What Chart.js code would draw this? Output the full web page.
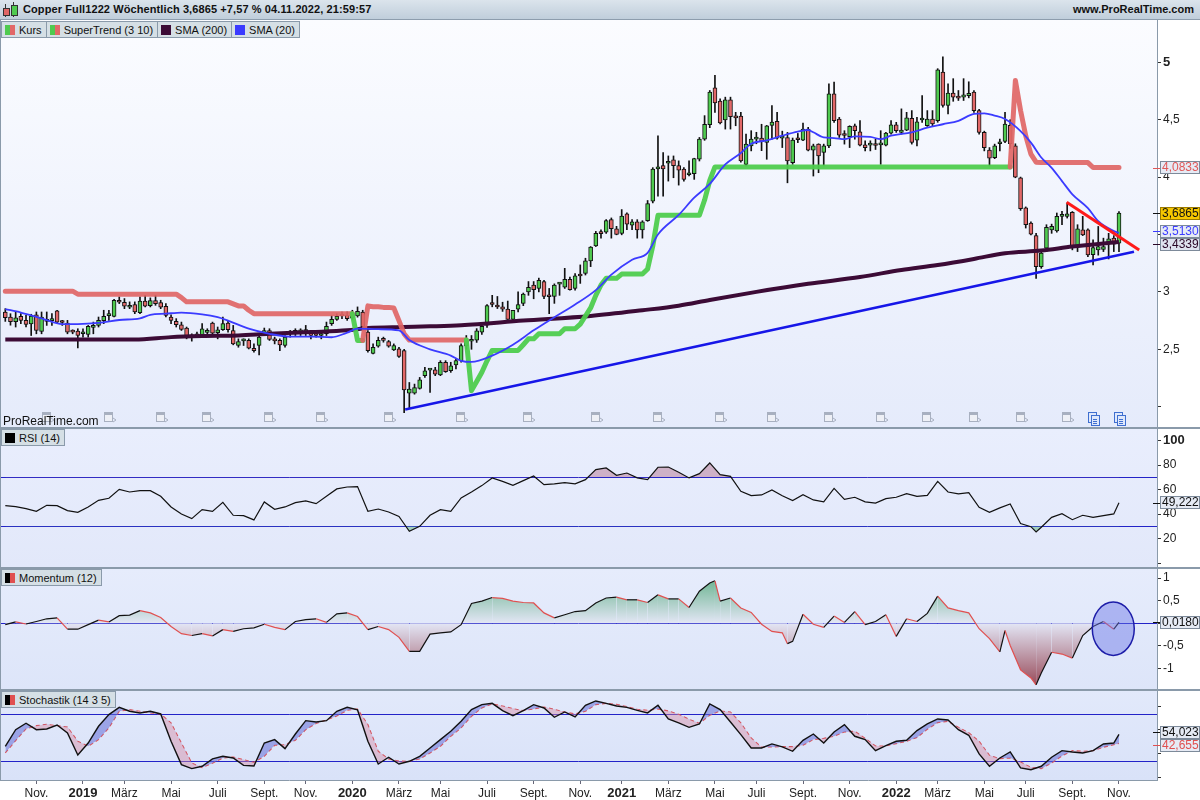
<!DOCTYPE html>
<html>
<head>
<meta charset="utf-8">
<title>Copper Full1222 Wöchentlich</title>
<script src="https://cdn.jsdelivr.net/npm/chart.js@4.4.1/dist/chart.umd.min.js"></script>
<style>
  body { margin: 0; background: #fff; }
  #page { position: relative; width: 1200px; height: 800px; overflow: hidden; font-family: "Liberation Sans", Arial, sans-serif; color: #111; background: #fff; }
  #page canvas { position: absolute; left: 0; }
  .hdr { position: absolute; left: 0; top: 0; width: 1200px; height: 20px; background: linear-gradient(#dbe4ec, #c0cedb); border-bottom: 1px solid #8d9dad; box-sizing: border-box; }
  .hdr .t { position: absolute; left: 23px; top: 3px; font-weight: bold; font-size: 11px; letter-spacing: 0.1px; }
  .hdr .w { position: absolute; right: 6px; top: 3px; font-weight: bold; font-size: 11px; }
  .tags { position: absolute; left: 1px; display: flex; z-index: 2; }
  .tag { height: 17px; line-height: 16px; font-size: 11px; background: #d5dfe5; border: 1px solid #8a9aaa; box-sizing: border-box; padding: 0 4px 0 3px; white-space: nowrap; margin-right: -1px; }
  .sw { display: inline-block; width: 10px; height: 10px; vertical-align: -1px; margin-right: 4px; }
  .sep { position: absolute; left: 0; width: 1200px; height: 2px; background: #8a9aaa; z-index: 2; }
  .prt { position: absolute; left: 3px; top: 414px; font-size: 12px; line-height: 14px; z-index: 2; }
</style>
</head>
<body>
<div id="page">
  <div class="hdr">
    <div style="position:absolute;left:5px;top:4px;width:1px;height:13px;background:#333"></div>
    <div style="position:absolute;left:3px;top:8px;width:5px;height:6px;background:#e06666;border:1px solid #333"></div>
    <div style="position:absolute;left:13px;top:2px;width:1px;height:15px;background:#333"></div>
    <div style="position:absolute;left:11px;top:5px;width:5px;height:9px;background:#4fca4f;border:1px solid #333"></div>
    <div class="t">Copper Full1222 Wöchentlich 3,6865 +7,57 % 04.11.2022, 21:59:57</div>
    <div class="w">www.ProRealTime.com</div>
  </div>

  <canvas id="cMain" width="1200" height="408" style="top:20px"></canvas>
  <canvas id="cRsi" width="1200" height="140" style="top:428px"></canvas>
  <canvas id="cMom" width="1200" height="122" style="top:568px"></canvas>
  <canvas id="cSto" width="1200" height="110" style="top:690px"></canvas>

  <div class="tags" style="top:21px">
    <div class="tag"><span class="sw" style="background:linear-gradient(90deg,#4fca4f 50%,#e26868 50%)"></span>Kurs</div>
    <div class="tag"><span class="sw" style="background:linear-gradient(90deg,#4fca4f 50%,#e26868 50%)"></span>SuperTrend (3 10)</div>
    <div class="tag"><span class="sw" style="background:#3c0b36"></span>SMA (200)</div>
    <div class="tag"><span class="sw" style="background:#3b3bff"></span>SMA (20)</div>
  </div>
  <div class="prt">ProRealTime.com</div>

  <div class="sep" style="top:427px"></div>
  <div class="tags" style="top:429px"><div class="tag"><span class="sw" style="background:#000"></span>RSI (14)</div></div>
  <div class="sep" style="top:567px"></div>
  <div class="tags" style="top:569px"><div class="tag"><span class="sw" style="background:linear-gradient(90deg,#000 50%,#e05050 50%)"></span>Momentum (12)</div></div>
  <div class="sep" style="top:689px"></div>
  <div class="tags" style="top:691px"><div class="tag"><span class="sw" style="background:linear-gradient(90deg,#000 50%,#e05050 50%)"></span>Stochastik (14 3 5)</div></div>
  <div style="position:absolute;left:0;top:20px;width:1px;height:760px;background:#8a9aaa;z-index:2"></div>
</div>

<script>
// weekly candles, first week ends 21.09.2018
const weekStart = Date.UTC(2018, 8, 21);
const monthNames = ["Jan", "Feb", "März", "Apr", "Mai", "Juni", "Juli", "Aug", "Sept.", "Okt.", "Nov.", "Dez."];

const openP = [
  2.825, 2.78, 2.74, 2.787, 2.752, 2.72, 2.80, 2.655, 2.76, 2.75,
  2.834, 2.735, 2.728, 2.652, 2.658, 2.635, 2.63, 2.69, 2.708, 2.75,
  2.793, 2.787, 2.927, 2.91, 2.866, 2.89, 2.82, 2.92, 2.88, 2.925,
  2.907, 2.875, 2.781, 2.743, 2.714, 2.685, 2.612, 2.615, 2.615, 2.647,
  2.728, 2.644, 2.67, 2.728, 2.664, 2.533, 2.574, 2.577, 2.509, 2.533,
  2.644, 2.664, 2.577, 2.577, 2.533, 2.641, 2.647, 2.652, 2.655, 2.65,
  2.623, 2.62, 2.635, 2.723, 2.761, 2.793, 2.796, 2.77, 2.79, 2.825,
  2.65, 2.465, 2.527, 2.58, 2.568, 2.495, 2.503, 2.489, 2.118, 2.118,
  2.159, 2.27, 2.319, 2.322, 2.276, 2.387, 2.313, 2.363, 2.401, 2.53,
  2.57, 2.58, 2.65, 2.71, 2.90, 2.872, 2.87, 2.85, 2.76, 2.85,
  2.90, 3.00, 3.06, 3.03, 3.09, 2.962, 2.96, 3.068, 3.04, 3.11,
  3.03, 3.142, 3.16, 3.27, 3.40, 3.512, 3.52, 3.63, 3.55, 3.51,
  3.68, 3.58, 3.61, 3.54, 3.62, 3.79, 4.07, 4.10, 4.12, 4.15,
  4.10, 4.07, 4.02, 4.03, 4.155, 4.33, 4.456, 4.778, 4.661, 4.497,
  4.672, 4.532, 4.532, 4.111, 4.272, 4.33, 4.339, 4.301, 4.45, 4.486,
  4.339, 4.345, 4.126, 4.33, 4.322, 4.418, 4.234, 4.287, 4.214, 4.272,
  4.725, 4.506, 4.365, 4.351, 4.447, 4.395, 4.28, 4.278, 4.28, 4.28,
  4.278, 4.383, 4.456, 4.389, 4.409, 4.512, 4.322, 4.497, 4.447, 4.506,
  4.491, 4.915, 4.623, 4.731, 4.69, 4.696, 4.71, 4.74, 4.579, 4.389,
  4.234, 4.17, 4.29, 4.31, 4.45, 4.272, 3.994, 3.731, 3.6, 3.49,
  3.22, 3.38, 3.54, 3.532, 3.658, 3.658, 3.693, 3.395, 3.541, 3.541,
  3.325, 3.366, 3.37, 3.42, 3.468, 3.424
];
const highP = [
  2.854, 2.81, 2.825, 2.81, 2.796, 2.805, 2.825, 2.825, 2.825, 2.81,
  2.84, 2.752, 2.752, 2.67, 2.679, 2.679, 2.708, 2.737, 2.781, 2.84,
  2.84, 2.936, 2.957, 2.942, 2.913, 2.913, 2.957, 2.971, 2.948, 2.971,
  2.927, 2.898, 2.80, 2.767, 2.737, 2.694, 2.635, 2.65, 2.723, 2.679,
  2.737, 2.694, 2.781, 2.752, 2.708, 2.591, 2.591, 2.591, 2.547, 2.62,
  2.685, 2.679, 2.606, 2.591, 2.62, 2.664, 2.679, 2.679, 2.708, 2.664,
  2.664, 2.65, 2.737, 2.796, 2.81, 2.825, 2.825, 2.84, 2.869, 2.84,
  2.664, 2.547, 2.606, 2.606, 2.577, 2.547, 2.518, 2.50, 2.211, 2.197,
  2.255, 2.343, 2.33, 2.343, 2.401, 2.401, 2.387, 2.416, 2.547, 2.62,
  2.62, 2.68, 2.73, 2.89, 2.97, 2.96, 2.91, 2.92, 2.84, 3.00,
  2.99, 3.09, 3.09, 3.12, 3.10, 3.03, 3.07, 3.08, 3.205, 3.13,
  3.16, 3.235, 3.293, 3.395, 3.527, 3.54, 3.629, 3.644, 3.571, 3.717,
  3.688, 3.629, 3.629, 3.62, 3.796, 4.082, 4.36, 4.214, 4.184, 4.184,
  4.141, 4.082, 4.141, 4.164, 4.345, 4.535, 4.754, 4.886, 4.681, 4.696,
  4.696, 4.564, 4.564, 4.374, 4.404, 4.39, 4.46, 4.45, 4.623, 4.564,
  4.40, 4.389, 4.34, 4.38, 4.47, 4.433, 4.287, 4.29, 4.287, 4.813,
  4.827, 4.52, 4.404, 4.447, 4.462, 4.491, 4.316, 4.316, 4.33, 4.404,
  4.389, 4.491, 4.477, 4.594, 4.564, 4.579, 4.52, 4.71, 4.579, 4.579,
  4.944, 5.047, 4.813, 4.857, 4.754, 4.857, 4.83, 4.754, 4.59, 4.40,
  4.257, 4.287, 4.33, 4.564, 4.50, 4.29, 4.0, 3.74, 3.61, 3.51,
  3.366, 3.585, 3.59, 3.687, 3.702, 3.775, 3.70, 3.585, 3.658, 3.55,
  3.453, 3.57, 3.468, 3.51, 3.49, 3.70
];
const lowP = [
  2.743, 2.71, 2.694, 2.723, 2.694, 2.62, 2.635, 2.635, 2.708, 2.708,
  2.723, 2.708, 2.635, 2.635, 2.512, 2.606, 2.606, 2.635, 2.694, 2.723,
  2.752, 2.781, 2.898, 2.854, 2.854, 2.81, 2.81, 2.869, 2.869, 2.883,
  2.854, 2.781, 2.723, 2.694, 2.664, 2.591, 2.571, 2.606, 2.606, 2.635,
  2.635, 2.591, 2.664, 2.65, 2.539, 2.518, 2.533, 2.503, 2.474, 2.451,
  2.62, 2.577, 2.547, 2.489, 2.518, 2.606, 2.62, 2.62, 2.62, 2.591,
  2.606, 2.591, 2.62, 2.708, 2.752, 2.767, 2.752, 2.76, 2.78, 2.679,
  2.474, 2.46, 2.518, 2.562, 2.518, 2.489, 2.43, 1.948, 1.983, 2.109,
  2.153, 2.255, 2.124, 2.27, 2.27, 2.299, 2.299, 2.328, 2.387, 2.50,
  2.50, 2.56, 2.63, 2.69, 2.87, 2.855, 2.83, 2.76, 2.75, 2.825,
  2.88, 2.97, 2.94, 3.00, 2.94, 2.81, 2.90, 2.97, 3.03, 3.015,
  3.015, 3.074, 3.147, 3.22, 3.395, 3.468, 3.51, 3.468, 3.497, 3.497,
  3.541, 3.541, 3.468, 3.468, 3.614, 3.775, 3.834, 3.834, 3.965, 3.994,
  3.93, 3.965, 4.009, 3.98, 4.14, 4.32, 4.43, 4.564, 4.462, 4.418,
  4.418, 4.447, 4.13, 4.097, 4.228, 4.29, 4.23, 4.155, 4.33, 4.33,
  4.257, 3.95, 4.111, 4.30, 4.316, 4.228, 4.009, 4.038, 4.097, 4.257,
  4.477, 4.345, 4.287, 4.257, 4.33, 4.272, 4.228, 4.228, 4.24, 4.111,
  4.272, 4.374, 4.389, 4.374, 4.404, 4.287, 4.272, 4.477, 4.441, 4.447,
  4.477, 4.608, 4.55, 4.66, 4.667, 4.667, 4.69, 4.564, 4.374, 4.228,
  4.097, 4.16, 4.228, 4.30, 4.25, 3.994, 3.71, 3.556, 3.497, 3.117,
  3.205, 3.351, 3.51, 3.52, 3.585, 3.643, 3.366, 3.351, 3.49, 3.307,
  3.234, 3.32, 3.351, 3.287, 3.351, 3.351
];
const closeP = [
  2.775, 2.74, 2.775, 2.752, 2.717, 2.79, 2.664, 2.781, 2.743, 2.755,
  2.737, 2.733, 2.65, 2.65, 2.62, 2.65, 2.70, 2.708, 2.752, 2.787,
  2.796, 2.927, 2.91, 2.875, 2.883, 2.825, 2.92, 2.875, 2.925, 2.898,
  2.866, 2.796, 2.752, 2.714, 2.673, 2.615, 2.609, 2.635, 2.679, 2.65,
  2.64, 2.67, 2.723, 2.67, 2.547, 2.568, 2.577, 2.509, 2.489, 2.606,
  2.664, 2.585, 2.574, 2.539, 2.606, 2.644, 2.65, 2.655, 2.658, 2.62,
  2.62, 2.623, 2.699, 2.761, 2.787, 2.79, 2.767, 2.80, 2.83, 2.694,
  2.489, 2.518, 2.577, 2.577, 2.527, 2.533, 2.439, 2.147, 2.153, 2.167,
  2.235, 2.313, 2.322, 2.284, 2.387, 2.305, 2.357, 2.401, 2.533, 2.57,
  2.58, 2.66, 2.70, 2.88, 2.89, 2.868, 2.85, 2.76, 2.84, 2.89,
  2.98, 3.04, 3.02, 3.10, 2.96, 2.958, 3.06, 3.072, 3.11, 3.02,
  3.14, 3.138, 3.27, 3.39, 3.51, 3.508, 3.62, 3.55, 3.50, 3.66,
  3.59, 3.61, 3.54, 3.61, 3.77, 4.07, 4.09, 4.07, 4.13, 4.10,
  4.06, 3.98, 4.03, 4.16, 4.33, 4.46, 4.74, 4.646, 4.471, 4.672,
  4.526, 4.515, 4.14, 4.287, 4.33, 4.335, 4.31, 4.447, 4.48, 4.339,
  4.342, 4.14, 4.322, 4.325, 4.418, 4.234, 4.272, 4.184, 4.272, 4.725,
  4.491, 4.365, 4.362, 4.441, 4.404, 4.278, 4.257, 4.28, 4.275, 4.283,
  4.383, 4.456, 4.404, 4.409, 4.515, 4.301, 4.482, 4.50, 4.506, 4.462,
  4.935, 4.623, 4.731, 4.696, 4.687, 4.716, 4.73, 4.579, 4.389, 4.257,
  4.164, 4.272, 4.292, 4.462, 4.29, 4.0, 3.725, 3.585, 3.503, 3.22,
  3.337, 3.562, 3.57, 3.658, 3.66, 3.68, 3.395, 3.55, 3.497, 3.322,
  3.386, 3.395, 3.395, 3.462, 3.415, 3.6865
];

// SuperTrend (3 10), one value per week
const superTrend = [
  3.006, 3.006, 3.006, 3.006, 3.006, 3.006, 3.006, 3.006, 3.006, 3.006,
  3.006, 3.006, 3.006, 3.006, 2.98, 2.98, 2.98, 2.98, 2.98, 2.98,
  2.98, 2.98, 2.98, 2.98, 2.98, 2.98, 2.98, 2.98, 2.98, 2.98,
  2.98, 2.98, 2.98, 2.98, 2.95, 2.913, 2.913, 2.913, 2.913, 2.913,
  2.913, 2.913, 2.913, 2.913, 2.895, 2.878, 2.878, 2.84, 2.81, 2.81,
  2.81, 2.81, 2.81, 2.81, 2.81, 2.81, 2.81, 2.81, 2.81, 2.81,
  2.81, 2.81, 2.81, 2.81, 2.81, 2.81, 2.81, 2.81, 2.577, 2.577,
  2.878, 2.87, 2.87, 2.865, 2.865, 2.86, 2.75, 2.635, 2.58, 2.58,
  2.58, 2.58, 2.58, 2.58, 2.58, 2.58, 2.58, 2.58, 2.58, 2.58,
  2.14, 2.22, 2.30, 2.40, 2.49, 2.49, 2.49, 2.49, 2.49, 2.49,
  2.54, 2.591, 2.591, 2.635, 2.635, 2.635, 2.635, 2.635, 2.679, 2.679,
  2.679, 2.72, 2.79, 2.86, 2.97, 3.06, 3.118, 3.118, 3.118, 3.155,
  3.155, 3.155, 3.155, 3.155, 3.20, 3.40, 3.667, 3.667, 3.667, 3.667,
  3.667, 3.667, 3.667, 3.667, 3.667, 3.80, 3.97, 4.088, 4.088, 4.088,
  4.088, 4.088, 4.088, 4.088, 4.088, 4.088, 4.088, 4.088, 4.088, 4.088,
  4.088, 4.088, 4.088, 4.088, 4.088, 4.088, 4.088, 4.088, 4.088, 4.088,
  4.088, 4.088, 4.088, 4.088, 4.088, 4.088, 4.088, 4.088, 4.088, 4.088,
  4.088, 4.088, 4.088, 4.088, 4.088, 4.088, 4.088, 4.088, 4.088, 4.088,
  4.088, 4.088, 4.088, 4.088, 4.088, 4.088, 4.088, 4.088, 4.088, 4.088,
  4.088, 4.088, 4.088, 4.088, 4.088, 4.842, 4.58, 4.36, 4.20, 4.13,
  4.126, 4.126, 4.126, 4.126, 4.126, 4.126, 4.126, 4.126, 4.126, 4.126,
  4.0833, 4.0833, 4.0833, 4.0833, 4.0833, 4.0833
];

// [week, value]
const sma20 = [
  [0, 2.85], [3, 2.82], [7, 2.77], [11, 2.72], [14, 2.72], [18, 2.73], [22, 2.755], [26, 2.77],
  [28, 2.80], [31, 2.81], [34, 2.82], [38, 2.805], [41, 2.78], [43, 2.75], [47, 2.68], [51, 2.635],
  [55, 2.61], [59, 2.61], [63, 2.605], [66, 2.645], [68, 2.68], [72, 2.675], [76, 2.665], [78, 2.58],
  [82, 2.50], [86, 2.445], [88, 2.40], [90, 2.39], [94, 2.445], [98, 2.54], [102, 2.665], [106, 2.78],
  [110, 2.89], [114, 3.015], [117, 3.15], [121, 3.28], [124, 3.34], [126, 3.50], [130, 3.67], [133, 3.82],
  [136, 3.94], [139, 4.11], [142, 4.21], [144, 4.29], [147, 4.32], [150, 4.36], [153, 4.395], [155, 4.41],
  [156, 4.39], [158, 4.345], [160, 4.34], [162, 4.33], [164, 4.355], [167, 4.35], [169, 4.33], [171, 4.36],
  [175, 4.39], [178, 4.43], [181, 4.46], [184, 4.49], [187, 4.55], [189, 4.555], [191, 4.535], [193, 4.505],
  [196, 4.40], [198, 4.30], [200, 4.17], [202, 4.08], [204, 3.965], [206, 3.85], [209, 3.73], [211, 3.615],
  [214, 3.53], [215, 3.513]
];
const sma200 = [
  [0, 2.585], [25, 2.585], [32, 2.606], [38, 2.615], [45, 2.62], [51, 2.635], [59, 2.65], [66, 2.665],
  [70, 2.685], [77, 2.694], [82, 2.70], [88, 2.71], [100, 2.75], [113, 2.79], [123, 2.84], [130, 2.88],
  [136, 2.93], [145, 3.0], [155, 3.07], [165, 3.13], [173, 3.19], [180, 3.234], [187, 3.287], [193, 3.337],
  [200, 3.36], [206, 3.395], [215, 3.4339]
];
const rsi14 = [
  [0, 46.9], [2, 46.0], [4, 44.4], [6, 42.2], [8, 47.1], [10, 46.9], [12, 42.8], [14, 41.4], [16, 45.8],
  [18, 51.2], [20, 52.9], [22, 60.2], [24, 58.0], [26, 59.1], [28, 59.1], [30, 54.5], [32, 45.8], [34, 40.1],
  [36, 36.3], [38, 43.6], [40, 42.2], [42, 49.6], [44, 39.0], [46, 38.7], [48, 35.2], [50, 49.9], [52, 43.9],
  [54, 45.8], [56, 49.3], [58, 50.7], [60, 48.5], [62, 54.5], [64, 60.5], [66, 62.1], [68, 62.4], [70, 42.2],
  [72, 44.1], [74, 41.7], [76, 38.0], [78, 25.9], [80, 30.0], [82, 39.0], [84, 43.6], [86, 42.2], [88, 53.1],
  [90, 58.0], [92, 63.2], [94, 69.5], [96, 66.7], [98, 63.5], [100, 67.3], [102, 71.1], [104, 64.0], [106, 64.6],
  [108, 65.6], [110, 64.6], [112, 68.1], [114, 76.3], [116, 77.6], [118, 71.6], [120, 73.5], [122, 69.5], [124, 68.1],
  [126, 78.2], [128, 78.4], [130, 74.1], [132, 69.5], [134, 73.0], [136, 81.7], [138, 72.2], [140, 70.8], [142, 58.6],
  [144, 55.0], [146, 55.6], [148, 59.7], [150, 55.0], [152, 51.0], [154, 55.8], [156, 51.5], [158, 49.9], [160, 61.0],
  [162, 52.0], [164, 53.7], [166, 49.9], [168, 49.0], [170, 52.6], [172, 53.7], [174, 56.7], [176, 54.5], [178, 55.3],
  [180, 66.7], [182, 58.0], [184, 56.4], [186, 57.5], [188, 45.5], [190, 41.4], [192, 45.0], [194, 48.2], [196, 32.2],
  [198, 29.7], [199, 25.4], [200, 29.2], [202, 37.3], [204, 40.3], [206, 35.4], [208, 39.0], [210, 37.3], [212, 38.7],
  [214, 40.1], [215, 49.222]
];
const momentum12 = [
  [0, -0.03], [2, 0.03], [4, -0.015], [6, 0.04], [8, 0.10], [10, 0.12], [12, -0.13], [14, -0.13], [16, -0.03],
  [18, 0.07], [20, 0.03], [22, 0.17], [24, 0.18], [26, 0.28], [28, 0.23], [30, 0.13], [32, -0.07], [34, -0.23],
  [36, -0.27], [38, -0.23], [40, -0.28], [42, -0.14], [44, -0.18], [46, -0.12], [48, -0.10], [50, -0.02], [52, -0.09],
  [54, -0.14], [56, 0.04], [58, 0.08], [60, 0.10], [62, 0.02], [64, 0.21], [66, 0.23], [68, 0.15], [70, -0.14],
  [72, -0.07], [74, -0.14], [76, -0.31], [78, -0.62], [80, -0.62], [82, -0.24], [84, -0.21], [86, -0.19], [88, -0.03],
  [90, 0.44], [92, 0.49], [94, 0.57], [96, 0.55], [98, 0.49], [100, 0.46], [102, 0.45], [104, 0.23], [106, 0.12],
  [108, 0.19], [110, 0.26], [112, 0.28], [114, 0.45], [116, 0.56], [118, 0.58], [120, 0.52], [122, 0.52], [124, 0.46],
  [126, 0.63], [128, 0.54], [130, 0.54], [132, 0.35], [134, 0.71], [136, 0.89], [137, 0.94], [138, 0.49], [140, 0.56],
  [142, 0.34], [144, 0.24], [146, -0.02], [148, -0.18], [150, -0.21], [151, -0.45], [152, -0.40], [154, 0.20], [156, -0.02],
  [158, -0.09], [160, 0.16], [162, 0.02], [164, 0.26], [166, -0.03], [168, 0.04], [170, 0.19], [172, -0.29], [174, 0.10],
  [176, 0.04], [178, 0.22], [180, 0.60], [182, 0.34], [184, 0.28], [186, 0.23], [188, -0.12], [190, -0.34], [192, -0.63],
  [193, -0.16], [194, -0.49], [196, -1.03], [198, -1.21], [199, -1.36], [200, -1.10], [202, -0.64], [204, -0.68], [206, -0.77],
  [208, -0.27], [210, -0.07], [212, 0.04], [214, -0.13], [215, 0.018]
];
const stochK = [
  [0, 39.0], [2, 60.1], [4, 68.2], [6, 60.1], [8, 61.0], [10, 66.0], [12, 55.9], [14, 28.0], [16, 43.2],
  [18, 64.4], [20, 79.2], [22, 88.4], [24, 83.4], [26, 81.3], [28, 83.4], [30, 80.0], [32, 45.4], [34, 15.8],
  [36, 10.7], [38, 13.7], [40, 23.0], [42, 26.3], [44, 24.2], [46, 14.9], [48, 14.1], [50, 43.2], [52, 47.5],
  [54, 36.1], [56, 54.6], [58, 71.5], [60, 69.9], [62, 71.5], [64, 83.4], [66, 88.4], [68, 85.1], [70, 45.4],
  [72, 16.6], [74, 25.1], [76, 16.6], [78, 20.0], [80, 26.3], [82, 36.9], [84, 47.5], [86, 58.0], [88, 70.7],
  [90, 85.5], [92, 91.8], [94, 93.5], [96, 84.2], [98, 77.9], [100, 84.2], [102, 91.8], [104, 87.6], [106, 75.8],
  [108, 82.5], [110, 76.2], [112, 91.0], [114, 96.5], [116, 93.5], [118, 90.1], [120, 88.4], [122, 84.6], [124, 81.3],
  [126, 91.0], [128, 73.7], [130, 68.6], [132, 63.1], [134, 67.3], [136, 92.7], [138, 85.5], [140, 69.9], [142, 53.8],
  [144, 36.9], [146, 36.9], [148, 42.0], [150, 38.2], [152, 32.7], [154, 46.6], [156, 54.6], [158, 43.2], [160, 57.2],
  [162, 66.5], [164, 51.7], [166, 47.5], [168, 33.5], [170, 39.9], [172, 45.4], [174, 46.6], [176, 58.9], [178, 67.3],
  [180, 73.7], [182, 72.4], [184, 60.1], [186, 53.0], [188, 29.3], [190, 13.7], [192, 24.2], [194, 31.8], [196, 11.6],
  [198, 9.4], [200, 13.7], [202, 25.1], [204, 33.5], [206, 31.8], [208, 30.6], [210, 33.5], [212, 42.0], [214, 43.2],
  [215, 54.023]
];
const stochD = [
  [0, 30.6], [2, 46.2], [4, 61.0], [6, 65.2], [8, 66.9], [10, 65.2], [12, 63.5], [14, 45.4], [16, 39.0],
  [18, 47.5], [20, 62.3], [22, 83.4], [24, 85.5], [26, 83.4], [28, 81.3], [30, 80.0], [32, 68.6], [34, 43.2],
  [36, 17.9], [38, 12.0], [40, 17.5], [42, 24.2], [44, 25.5], [46, 22.1], [48, 18.7], [50, 26.3], [52, 40.3],
  [54, 41.1], [56, 46.6], [58, 60.1], [60, 67.8], [62, 72.4], [64, 77.5], [66, 84.6], [68, 86.3], [70, 66.5],
  [72, 32.7], [74, 23.0], [76, 20.4], [78, 20.0], [80, 23.0], [82, 30.6], [84, 39.0], [86, 51.7], [88, 62.3],
  [90, 77.0], [92, 87.6], [94, 92.7], [96, 90.1], [98, 86.8], [100, 84.2], [102, 86.3], [104, 88.9], [106, 85.9],
  [108, 82.5], [110, 80.0], [112, 83.4], [114, 91.8], [116, 93.5], [118, 92.2], [120, 89.3], [122, 85.9], [124, 84.6],
  [126, 86.3], [128, 83.8], [130, 79.6], [132, 73.3], [134, 68.2], [136, 78.3], [138, 83.8], [140, 82.5], [142, 68.6],
  [144, 49.6], [146, 37.8], [148, 38.2], [150, 38.6], [152, 38.6], [154, 40.3], [156, 47.5], [158, 49.1], [160, 51.7],
  [162, 57.2], [164, 58.0], [166, 49.1], [168, 39.4], [170, 39.5], [172, 42.4], [174, 45.4], [176, 50.0], [178, 60.6],
  [180, 69.0], [182, 70.7], [184, 63.1], [186, 56.3], [188, 45.4], [190, 27.6], [192, 23.4], [194, 24.2], [196, 19.2],
  [198, 12.4], [200, 10.7], [202, 17.9], [204, 26.7], [206, 33.5], [208, 32.7], [210, 33.5], [212, 37.8], [214, 41.1],
  [215, 42.655]
];

// drawn annotations: [week, price]
const supportLine = [[77.2, 1.975], [217.9, 3.35]];
const resistLine = [[204.9, 3.78], [218.9, 3.365]];
const momCircle = { x: 213.9, y: -0.12, rx: 4.05, ry: 0.59 };
const eventWeeks = [8, 20, 30, 39, 51, 61, 74, 88, 101, 114, 126, 138, 148, 159, 169, 178, 187, 196, 205];
const docWeeks = [210, 215];

const X_MIN = -1.023, X_MAX = 222.34;
const FONT = '"Liberation Sans", Arial, sans-serif';
Chart.defaults.font.family = FONT;
Chart.defaults.font.size = 12;
Chart.defaults.color = "#222";
Chart.defaults.animation = false;

const DAY = 864e5;
const weekDate = i => new Date(weekStart + i * 7 * DAY);
const monthTicks = [];
for (let i = 1; i < closeP.length; i++) {
  const m = weekDate(i).getUTCMonth();
  if (m !== weekDate(i - 1).getUTCMonth() && m % 2 === 0) {
    monthTicks.push({ value: i, label: m === 0 ? String(weekDate(i).getUTCFullYear()) : monthNames[m], year: m === 0 });
  }
}

const pts = arr => arr.map(([x, y]) => ({ x, y }));
const last = arr => arr[arr.length - 1][1];
const comma = (v, d) => (d == null ? String(+v.toFixed(4)) : v.toFixed(d)).replace(".", ",");
const idx = closeP.map((_, i) => i);

function xAxis(show) {
  return {
    type: "linear", min: X_MIN, max: X_MAX, display: show, offset: false,
    afterBuildTicks: s => { s.ticks = monthTicks.map(t => ({ value: t.value })); },
    ticks: {
      autoSkip: false, maxRotation: 0, padding: 2, color: "#222",
      callback: (v, i) => monthTicks[i] ? monthTicks[i].label : "",
      font: c => {
        const t = monthTicks.find(m => c.tick && m.value === c.tick.value);
        return t && t.year ? { family: FONT, size: 13, weight: "bold" } : { family: FONT, size: 12 };
      }
    },
    grid: { drawOnChartArea: false, tickLength: 4, color: "#667" },
    border: { display: true, color: "#8a9aaa" },
    afterFit: s => { s.height = show ? 20 : 0; s.paddingLeft = 0; s.paddingRight = 0; }
  };
}

function yAxis(min, max, step, label, boldAt) {
  return {
    position: "right", min, max,
    ticks: {
      stepSize: step, includeBounds: false, padding: 2, color: "#222",
      callback: label,
      font: c => (c.tick && c.tick.value === boldAt) ? { family: FONT, size: 13, weight: "bold" } : { family: FONT, size: 12 }
    },
    grid: { drawOnChartArea: false, tickLength: 4, color: "#333" },
    border: { display: true, color: "#8a9aaa", width: 1 },
    afterFit: s => { s.width = 43; s.paddingTop = 0; s.paddingBottom = 0; }
  };
}

function bgPlugin(top, bottom) {
  return {
    id: "panelBg",
    beforeDraw(chart) {
      const { ctx, chartArea: a } = chart;
      const g = ctx.createLinearGradient(0, a.top, 0, a.bottom);
      g.addColorStop(0, top);
      g.addColorStop(1, bottom);
      ctx.save();
      ctx.fillStyle = g;
      ctx.fillRect(a.left, a.top, a.right - a.left, a.bottom - a.top);
      ctx.restore();
    }
  };
}

function levelPlugin(values) {
  return {
    id: "levels",
    beforeDatasetsDraw(chart) {
      const { ctx, chartArea: a, scales: { y } } = chart;
      ctx.save();
      ctx.strokeStyle = "#2323c8";
      ctx.lineWidth = 1;
      values.forEach(v => {
        const py = Math.round(y.getPixelForValue(v)) + 0.5;
        ctx.beginPath(); ctx.moveTo(a.left, py); ctx.lineTo(a.right, py); ctx.stroke();
      });
      ctx.restore();
    }
  };
}

// value boxes on the right axis
function boxPlugin(items) {
  return {
    id: "axisBoxes",
    afterDraw(chart) {
      const { ctx, chartArea: a, scales: { y } } = chart;
      const h = 13;
      const list = items.map(it => Object.assign({}, it, { py: y.getPixelForValue(it.value) })).sort((p, q) => p.py - q.py);
      for (let k = 1; k < list.length; k++) {
        const d = list[k].py - list[k - 1].py;
        if (d < h) { list[k - 1].py -= (h - d) / 2; list[k].py += (h - d) / 2; }
      }
      ctx.save();
      ctx.font = "12px " + FONT;
      ctx.textBaseline = "middle";
      list.forEach(it => {
        const x0 = a.right + 3, w = 40, top = Math.round(it.py - h / 2);
        ctx.strokeStyle = it.color; ctx.lineWidth = 1;
        ctx.beginPath(); ctx.moveTo(a.right - 4, Math.round(it.py) + 0.5); ctx.lineTo(x0, Math.round(it.py) + 0.5); ctx.stroke();
        ctx.fillStyle = it.bg;
        ctx.fillRect(x0, top, w, h);
        ctx.strokeStyle = it.border || "#7d8a9a";
        ctx.strokeRect(x0 + 0.5, top + 0.5, w - 1, h - 1);
        ctx.fillStyle = it.color;
        ctx.fillText(it.text, x0 + 2, top + h / 2 + 0.5);
      });
      ctx.restore();
    }
  };
}

const iconPlugin = {
  id: "eventIcons",
  afterDatasetsDraw(chart) {
    const { ctx, chartArea: a, scales: { x } } = chart;
    const cy = a.bottom - 10;
    ctx.save();
    ctx.lineWidth = 1;
    eventWeeks.forEach(w => {
      const px = Math.round(x.getPixelForValue(w));
      ctx.strokeStyle = "#a8b0c0";
      ctx.fillStyle = "#eef0f6";
      ctx.fillRect(px - 5, cy - 4, 9, 8);
      ctx.strokeRect(px - 4.5, cy - 3.5, 8, 7);
      ctx.fillStyle = "#a8b0c0";
      ctx.fillRect(px - 5, cy - 6, 9, 2);
      ctx.beginPath(); ctx.moveTo(px + 4, cy); ctx.lineTo(px + 7, cy + 2); ctx.lineTo(px + 4, cy + 4); ctx.stroke();
    });
    docWeeks.forEach(w => {
      const px = Math.round(x.getPixelForValue(w));
      ctx.strokeStyle = "#3f6fd0";
      ctx.fillStyle = "#dfe8fb";
      ctx.fillRect(px - 5, cy - 6, 8, 10);
      ctx.strokeRect(px - 4.5, cy - 5.5, 8, 10);
      ctx.fillRect(px - 2, cy - 3, 8, 10);
      ctx.strokeRect(px - 1.5, cy - 2.5, 8, 10);
      ctx.beginPath();
      ctx.moveTo(px, cy + 1.5); ctx.lineTo(px + 4, cy + 1.5);
      ctx.moveTo(px, cy + 3.5); ctx.lineTo(px + 4, cy + 3.5);
      ctx.moveTo(px, cy + 5.5); ctx.lineTo(px + 4, cy + 5.5);
      ctx.stroke();
    });
    ctx.restore();
  }
};

const baseOpts = {
  responsive: false,
  layout: { padding: 0, autoPadding: false },
  plugins: { legend: { display: false }, tooltip: { enabled: false } },
  elements: { point: { radius: 0 } }
};

// ---- price panel
new Chart(document.getElementById("cMain"), {
  type: "bar",
  data: {
    datasets: [
      { type: "line", data: pts(resistLine), borderColor: "#ff1a1a", borderWidth: 3, order: 1 },
      { type: "line", data: pts(supportLine), borderColor: "#1616e8", borderWidth: 2.5, order: 1 },
      { type: "line", data: pts(sma20), borderColor: "#3b3bff", borderWidth: 1.8, cubicInterpolationMode: "monotone", order: 2 },
      {
        type: "line", data: idx.map(i => ({ x: i, y: superTrend[i] })), borderColor: "#52cc52", borderWidth: 5,
        borderJoinStyle: "round", borderCapStyle: "round", order: 3,
        segment: { borderColor: c => superTrend[c.p1DataIndex] > closeP[c.p1DataIndex] ? "rgba(224,102,102,0.92)" : "rgba(78,204,78,0.95)" }
      },
      { type: "line", data: pts(sma200), borderColor: "#3c0b36", borderWidth: 4, cubicInterpolationMode: "monotone", order: 4 },
      {
        data: idx.map(i => ({ x: i, y: [openP[i], closeP[i]] })),
        backgroundColor: idx.map(i => closeP[i] >= openP[i] ? "#4fca4f" : "#e26868"),
        borderColor: "#111", borderWidth: 1, borderSkipped: false, barThickness: 4, minBarLength: 2, grouped: false, order: 8
      },
      { data: idx.map(i => ({ x: i, y: [lowP[i], highP[i]] })), backgroundColor: "#111", barThickness: 1, grouped: false, order: 9 }
    ]
  },
  options: Object.assign({}, baseOpts, {
    scales: {
      x: xAxis(false),
      y: yAxis(1.8145, 5.368, 0.5, v => v < 2.2 ? "" : comma(v), 5)
    }
  }),
  plugins: [
    bgPlugin("#fbfcff", "#e5ebfb"),
    iconPlugin,
    boxPlugin([
      { value: superTrend[superTrend.length - 1], text: comma(superTrend[superTrend.length - 1], 4), color: "#e05858", bg: "#e6ebf5" },
      { value: closeP[closeP.length - 1], text: comma(closeP[closeP.length - 1], 4), color: "#111", bg: "#f6c700", border: "#9a7a00" },
      { value: last(sma20), text: comma(last(sma20), 4), color: "#3b3bff", bg: "#e6ebf5" },
      { value: last(sma200), text: comma(last(sma200), 4), color: "#2a0626", bg: "#dfe3ef" }
    ])
  ]
});

// ---- RSI (14)
new Chart(document.getElementById("cRsi"), {
  type: "line",
  data: {
    datasets: [
      { data: pts(rsi14), borderColor: "#111", borderWidth: 1.2, order: 1,
        fill: { target: { value: 70 }, above: "rgba(185,130,155,0.55)", below: "rgba(0,0,0,0)" } },
      { data: pts(rsi14), borderColor: "rgba(0,0,0,0)", borderWidth: 0, order: 2,
        fill: { target: { value: 30 }, above: "rgba(0,0,0,0)", below: "rgba(110,185,140,0.55)" } }
    ]
  },
  options: Object.assign({}, baseOpts, {
    scales: {
      x: xAxis(false),
      y: yAxis(-4.04, 110.24, 10, v => (v >= 20 && v <= 100 && v % 20 === 0) ? String(v) : "", 100)
    }
  }),
  plugins: [
    bgPlugin("#e9eefd", "#e2e8fa"),
    levelPlugin([70, 30]),
    boxPlugin([{ value: last(rsi14), text: comma(last(rsi14), 3), color: "#111", bg: "#e6ebf5" }])
  ]
});

// ---- Momentum (12)
const momFill = c => {
  const chart = c.chart, a = chart.chartArea, y = chart.scales.y;
  if (!a || !y) return "rgba(0,0,0,0)";
  const z = Math.min(0.99, Math.max(0.01, (y.getPixelForValue(0) - a.top) / (a.bottom - a.top)));
  const g = chart.ctx.createLinearGradient(0, a.top, 0, a.bottom);
  g.addColorStop(0, "#4fa878");
  g.addColorStop(z, "#e3e6f5");
  g.addColorStop(1, "#93404f");
  return g;
};
const circlePlugin = {
  id: "circle",
  afterDatasetsDraw(chart) {
    const { ctx, scales: { x, y } } = chart;
    const cx = x.getPixelForValue(momCircle.x), cy = y.getPixelForValue(momCircle.y);
    const rx = Math.abs(x.getPixelForValue(momCircle.x + momCircle.rx) - cx);
    const ry = Math.abs(y.getPixelForValue(momCircle.y + momCircle.ry) - cy);
    ctx.save();
    ctx.beginPath();
    ctx.ellipse(cx, cy, rx, ry, 0, 0, Math.PI * 2);
    ctx.fillStyle = "rgba(105,115,230,0.45)";
    ctx.fill();
    ctx.strokeStyle = "#1c1ca8";
    ctx.lineWidth = 1.5;
    ctx.stroke();
    ctx.restore();
  }
};
new Chart(document.getElementById("cMom"), {
  type: "line",
  data: {
    datasets: [{
      data: pts(momentum12), borderWidth: 1.2, borderColor: "#111",
      segment: { borderColor: c => c.p1.parsed.y >= c.p0.parsed.y ? "#111" : "#e05050" },
      fill: { target: { value: 0 } }, backgroundColor: momFill
    }]
  },
  options: Object.assign({}, baseOpts, {
    scales: {
      x: xAxis(false),
      y: yAxis(-1.4757, 1.2235, 0.5, v => comma(v), null)
    }
  }),
  plugins: [
    bgPlugin("#e6ecfc", "#dde5f9"),
    levelPlugin([0]),
    circlePlugin,
    boxPlugin([{ value: last(momentum12), text: comma(last(momentum12), 4), color: "#111", bg: "#e6ebf5" }])
  ]
});

// ---- Stochastik (14 3 5)
new Chart(document.getElementById("cSto"), {
  type: "line",
  data: {
    datasets: [
      { data: pts(stochK), borderColor: "#111", borderWidth: 1.4, order: 1,
        fill: { target: "+1", above: "rgba(100,110,215,0.55)", below: "rgba(215,140,165,0.45)" } },
      { data: pts(stochD), borderColor: "#e05050", borderWidth: 1.1, borderDash: [4, 3], order: 2 }
    ]
  },
  options: Object.assign({}, baseOpts, {
    scales: {
      x: xAxis(true),
      y: yAxis(-3.70, 110.37, 10, v => (v === 100 || v === 80 || v === 20) ? String(v) : "", 100)
    }
  }),
  plugins: [
    bgPlugin("#e2e9fb", "#d9e2f8"),
    levelPlugin([80, 20]),
    boxPlugin([
      { value: last(stochK), text: comma(last(stochK), 3), color: "#111", bg: "#e6ebf5" },
      { value: last(stochD), text: comma(last(stochD), 3), color: "#e05050", bg: "#e6ebf5" }
    ])
  ]
});
</script>
</body>
</html>
